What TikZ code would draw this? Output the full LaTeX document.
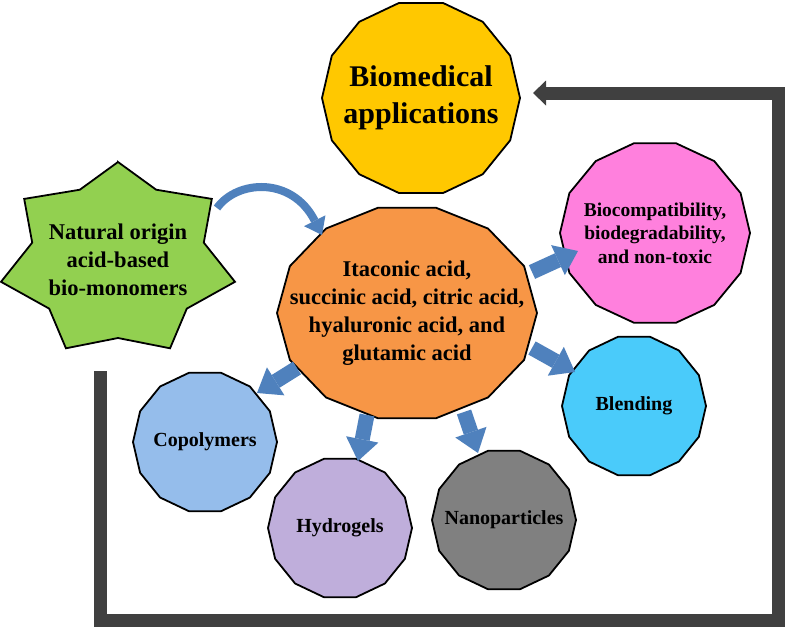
\documentclass[tikz,border=0pt]{standalone}
\usepackage{fontspec}
\setmainfont{Liberation Serif}
\usetikzlibrary{calc,arrows.meta}
\definecolor{cYel}{HTML}{FFC800}
\definecolor{cGrn}{HTML}{92D050}
\definecolor{cOrg}{HTML}{F79646}
\definecolor{cPnk}{HTML}{FF80DD}
\definecolor{cCyn}{HTML}{4ACBFA}
\definecolor{cBlu}{HTML}{95BDEB}
\definecolor{cPur}{HTML}{BFAEDB}
\definecolor{cGry}{HTML}{808080}
\definecolor{cFrm}{HTML}{404040}
\definecolor{cArr}{HTML}{4F81BD}
\pgfdeclarelayer{bg}
\pgfsetlayers{bg,main}
\tikzset{
  shp/.style={draw=black, line width=1.8pt, line join=miter},
  txt/.style={align=center, inner sep=0pt, text=black},
  smalltxt/.style={txt, font=\bfseries\fontsize{20}{24}\selectfont},
  blk/.style={line width=15pt, draw=cArr, -{Triangle[width=33pt,length=22pt,line width=0pt]}},
  curv/.style={line width=8pt, draw=cArr, -{Triangle[width=24pt,length=16pt,line width=0pt]}},
  frame/.style={line width=13pt, draw=cFrm, line join=miter, -{Triangle[width=25pt,length=13pt,line width=0pt]}}
}
\newcommand\polyshape[4]{% name, rx, ry, colour
  \begin{pgfonlayer}{bg}
  \draw[shp,fill=#4] ($(#1.center)+(0:#2 and #3)$)
    \foreach \k in {1,...,13}{ -- ($(#1.center)+(\k*360/14:#2 and #3)$)} -- cycle;
  \end{pgfonlayer}}
\newcommand\starshape[6]{% name, rx, ry, inner rx, inner ry, colour
  \begin{pgfonlayer}{bg}
  \draw[shp,fill=#6] ($(#1.center)+(-90:#2 and #3)$)
    \foreach \k in {1,...,7}{ -- ($(#1.center)+(-90+\k*51.4286-25.7143:#4 and #5)$)
      -- ($(#1.center)+(-90+\k*51.4286:#2 and #3)$)} -- cycle;
  \end{pgfonlayer}}
\begin{document}
\begin{tikzpicture}[x=1pt,y=-1pt]
\begin{pgfonlayer}{bg}
\fill[white] (0,0) rectangle (787,630);
\end{pgfonlayer}
\useasboundingbox (0,0) rectangle (787,630);

% nodes (text)
\node[txt, font=\bfseries\fontsize{30}{37}\selectfont] (yel) at (421,98) {Biomedical\\applications};
\node[txt, font=\bfseries\fontsize{22.5}{28}\selectfont] (star) at (118,260) {Natural origin\\acid-based\\bio-monomers};
\node[txt, font=\bfseries\fontsize{22.5}{28}\selectfont] (org) at (407,313) {Itaconic acid,\\succinic acid, citric acid,\\hyaluronic acid, and\\glutamic acid};
\node[txt, font=\bfseries\fontsize{19.5}{23.5}\selectfont] (pnk) at (655,233) {Biocompatibility,\\biodegradability,\\and non-toxic};
\node[smalltxt] (cyn) at (634,406) {Blending};
\node[smalltxt] (cop) at (205,442) {Copolymers};
\node[smalltxt] (hyd) at (340,528) {Hydrogels};
\node[smalltxt] (nan) at (504,520) {Nanoparticles};

% shapes behind the texts
\polyshape{yel}{99}{97.5}{cYel}
\starshape{star}{120}{98}{88}{78}{cGrn}
\polyshape{org}{130}{108}{cOrg}
\polyshape{pnk}{95}{92}{cPnk}
\polyshape{cyn}{72}{71}{cCyn}
\polyshape{cop}{72}{71}{cBlu}
\polyshape{hyd}{72}{71}{cPur}
\polyshape{nan}{72}{71}{cGry}

% block arrows
\draw[blk] ([shift={(-110,55)}]org.center) -- ([shift={(52,-49)}]cop.center);
\draw[blk] ([shift={(-40,102)}]org.center) -- ([shift={(18,-67)}]hyd.center);
\draw[blk] ([shift={(57,99)}]org.center) -- ([shift={(-26,-67)}]nan.center);
\draw[blk] ([shift={(125,-41)}]org.center) -- ([shift={(-77,18)}]pnk.center);
\draw[blk] ([shift={(125,35)}]org.center) -- ([shift={(-59,-34)}]cyn.center);

% curved arrow
\draw[curv] ([shift={(99,-52)}]star.center) .. controls (237,180) and (292,176) .. ([shift={(-85,-78)}]org.center);

% frame arrow
\coordinate (fs) at (100,371);
\coordinate (fe) at (533,93);
\draw[frame] (fs) |- (778,620) |- (fe);
\end{tikzpicture}
\end{document}
